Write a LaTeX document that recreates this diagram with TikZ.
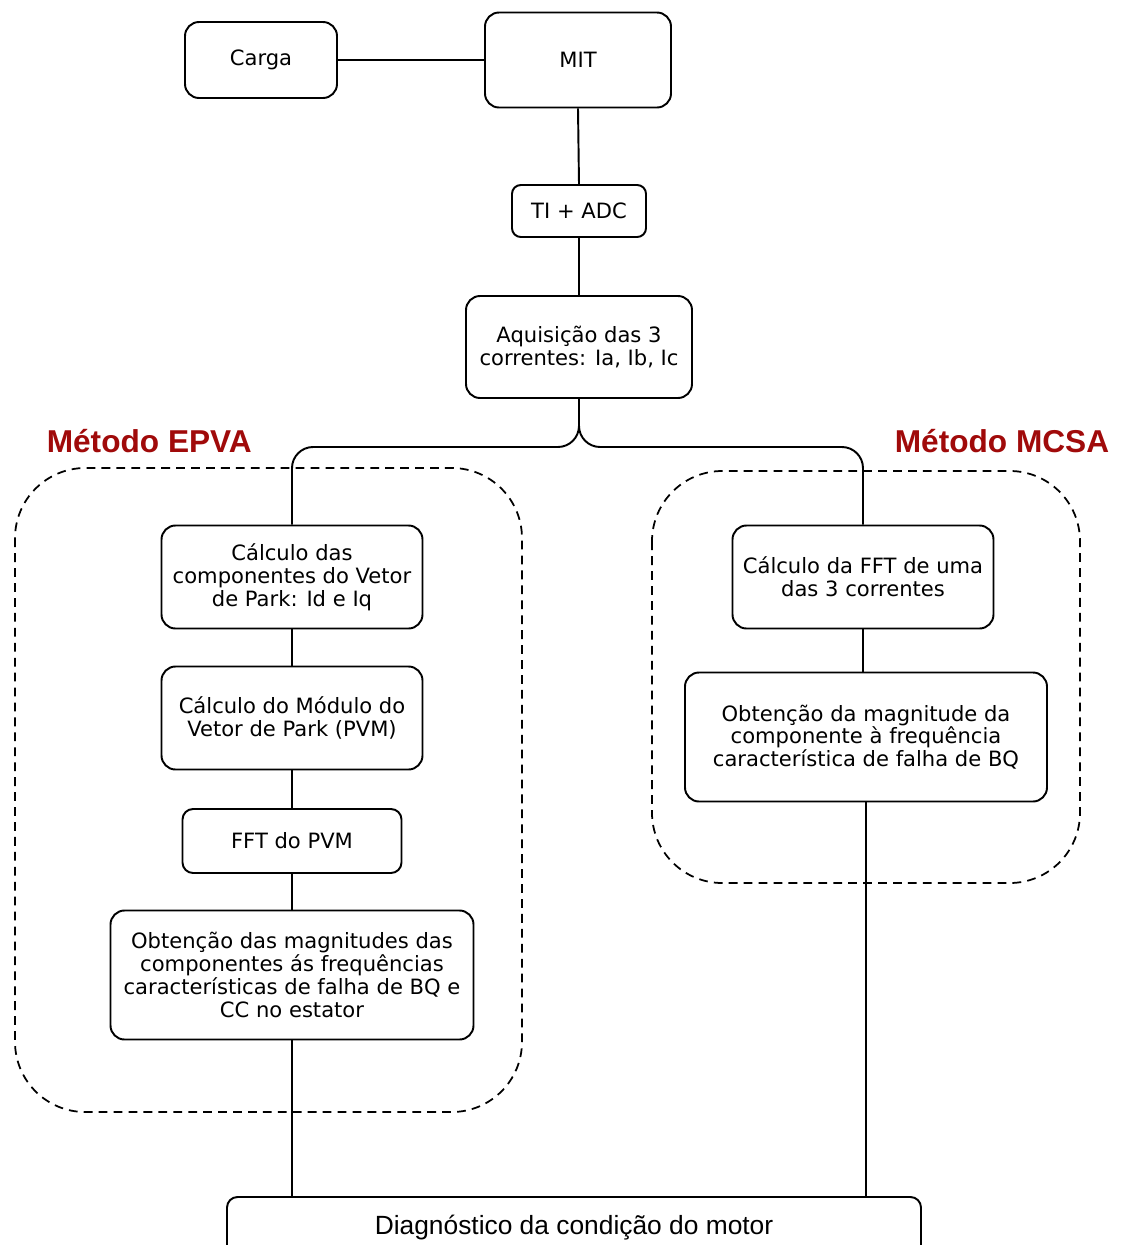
\documentclass[tikz,border=0pt]{standalone}
\usepackage{fontspec}
\setmainfont{DejaVu Sans}
\newfontfamily\arialfont{Liberation Sans}
\usetikzlibrary{positioning}
\definecolor{headred}{RGB}{160,10,10}
\begin{document}
\begin{tikzpicture}[x=0.02cm,y=-0.02cm,
  line width=1.1pt,
  blockbox/.style={draw, rounded corners=8pt, align=center, inner sep=2pt,
    font=\fontsize{12}{13}\selectfont},
  grouparea/.style={draw, dashed, dash pattern=on 5pt off 3.5pt, rounded corners=40pt, line width=1pt},
  heading/.style={font=\arialfont\bfseries\fontsize{18}{21}\selectfont, text=headred},
  link/.style={draw, line width=1.1pt}]
\useasboundingbox (0,0) rectangle (1122,1245);
\clip (0,0) rectangle (1122,1245);

% dashed method areas
\draw[grouparea] (15,468) rectangle (522,1112);
\draw[grouparea] (652,471) rectangle (1080,883);

% section headings
\node[heading, anchor=west] (hepva) at (40,441) {Método EPVA};
\node[heading, anchor=east] (hmcsa) at (1116,441) {Método MCSA};

% acquisition chain
\node[blockbox, minimum width=152*0.02cm, minimum height=76*0.02cm] (carga) at (261,60) {Carga};
\node[blockbox, minimum width=186*0.02cm, minimum height=95*0.02cm] (mit) at (578,60) {MIT};
\node[blockbox, minimum width=134*0.02cm, minimum height=52*0.02cm, rounded corners=5pt] (ti) at (579,211) {TI + ADC};
\node[blockbox, minimum width=226*0.02cm, minimum height=102*0.02cm] (aq) at (579,347) {Aquisição das 3\\correntes: Ia, Ib, Ic};

% EPVA branch
\node[blockbox, minimum width=261*0.02cm, minimum height=103*0.02cm] (park) at (292,577) {Cálculo das\\componentes do Vetor\\de Park: Id e Iq};
\node[blockbox, minimum width=261*0.02cm, minimum height=103*0.02cm] (pvm) at (292,718) {Cálculo do Módulo do\\Vetor de Park (PVM)};
\node[blockbox, minimum width=219*0.02cm, minimum height=64*0.02cm, rounded corners=6pt] (fftpvm) at (292,841) {FFT do PVM};
\node[blockbox, minimum width=363*0.02cm, minimum height=129*0.02cm] (magepva) at (292,975) {Obtenção das magnitudes das\\componentes ás frequências\\características de falha de BQ e\\CC no estator};

% MCSA branch
\node[blockbox, minimum width=261*0.02cm, minimum height=103*0.02cm] (fftc) at (863,577) {Cálculo da FFT de uma\\das 3 correntes};
\node[blockbox, minimum width=362*0.02cm, minimum height=129*0.02cm] (magmcsa) at (866,737) {Obtenção da magnitude da\\componente à frequência\\característica de falha de BQ};

% diagnosis
\node[draw, rounded corners=6pt, minimum width=694*0.02cm, minimum height=62*0.02cm,
  font=\arialfont\fontsize{15}{18}\selectfont] (diag) at (574,1228) {Diagnóstico da condição do motor};

% connectors
\draw[link] (carga.east) -- (mit.west);
\draw[link] (mit.south) -- (ti.north);
\draw[link] (ti.south) -- (aq.north);
\draw[link, rounded corners=12pt] (aq.south) -- (aq.south |- 0,447) -| (park.north);
\draw[link, rounded corners=12pt] (aq.south) -- (aq.south |- 0,447) -| (fftc.north);
\draw[link] (park.south) -- (pvm.north);
\draw[link] (pvm.south) -- (fftpvm.north);
\draw[link] (fftpvm.south) -- (magepva.north);
\draw[link] (magepva.south) -- (magepva.south |- diag.north);
\draw[link] (fftc.south) -- (fftc.south |- magmcsa.north);
\draw[link] (magmcsa.south) -- (magmcsa.south |- diag.north);
\end{tikzpicture}
\end{document}
